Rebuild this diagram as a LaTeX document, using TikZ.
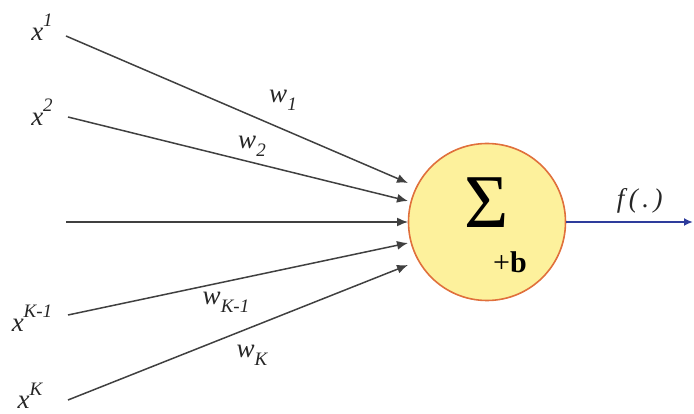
\documentclass[tikz,border=0pt]{standalone}
\usepackage{fontspec}
\setmainfont{Liberation Serif}
\usetikzlibrary{arrows.meta}
\definecolor{sumfill}{HTML}{FDF19C}
\definecolor{sumline}{HTML}{E0703C}
\definecolor{outblue}{HTML}{2E3C9C}
\newcommand{\upidx}[1]{\raisebox{0.5em}{\fontsize{19}{19}\selectfont #1}}
\newcommand{\dnidx}[1]{\raisebox{-0.3em}{\fontsize{19}{19}\selectfont #1}}

\begin{document}
\begin{tikzpicture}[
      x=1pt, y=-1pt,
      lbl/.style={font=\fontsize{27}{28}\selectfont\itshape, text=black!85, inner sep=0pt},
      neuron/.style={circle, draw=sumline, fill=sumfill, line width=1.6pt,
                     minimum size=157pt, inner sep=0pt},
      inarr/.style={draw=black!75, line width=1.5pt, -{Latex[length=11pt,width=9pt]}},
      outarr/.style={draw=outblue, line width=2pt, -{Latex[length=9pt,width=8pt]}}
    ]
    \useasboundingbox (0,0) rectangle (694,414);

    \node[neuron] (sum) at (487,222) {};
    \node[font=\fontsize{76}{76}\selectfont, inner sep=0pt] (sigma) at (487,203) {Σ};
    \node[font=\fontsize{30}{30}\selectfont, inner sep=0pt] (bias) at (510,262) {+\textbf{b}};

    % inputs
    \node[lbl] (x1)  at (42,27)  {x\upidx{1}};
    \node[lbl] (x2)  at (42,112) {x\upidx{2}};
    \node[lbl] (xk1) at (32,318) {x\upidx{K-1}};
    \node[lbl] (xk)  at (30,396) {x\upidx{K}};

    \coordinate (s1) at (66,36);
    \coordinate (s2) at (68,117);
    \coordinate (s3) at (66,222);
    \coordinate (s4) at (68,315);
    \coordinate (s5) at (68,400);

    \coordinate (t1) at (408,183);
    \coordinate (t2) at (408,201);
    \coordinate (t3) at (408,222);
    \coordinate (t4) at (408,243);
    \coordinate (t5) at (408,265);

    \draw[inarr] (s1) -- (t1);
    \draw[inarr] (s2) -- (t2);
    \draw[inarr] (s3) -- (t3);
    \draw[inarr] (s4) -- (t4);
    \draw[inarr] (s5) -- (t5);

    % weights
    \node[lbl] (w1)  at (283,100) {w\dnidx{1}};
    \node[lbl] (w2)  at (252,146) {w\dnidx{2}};
    \node[lbl] (wk1) at (226,302) {w\dnidx{K-1}};
    \node[lbl] (wk)  at (252,355) {w\dnidx{K}};

    % output
    \coordinate (out) at (693,222);
    \draw[outarr] (sum) -- node[lbl, above=8pt, pos=0.58] (fx) {f\,(\,.\,)} (out);
  \end{tikzpicture}
\end{document}
